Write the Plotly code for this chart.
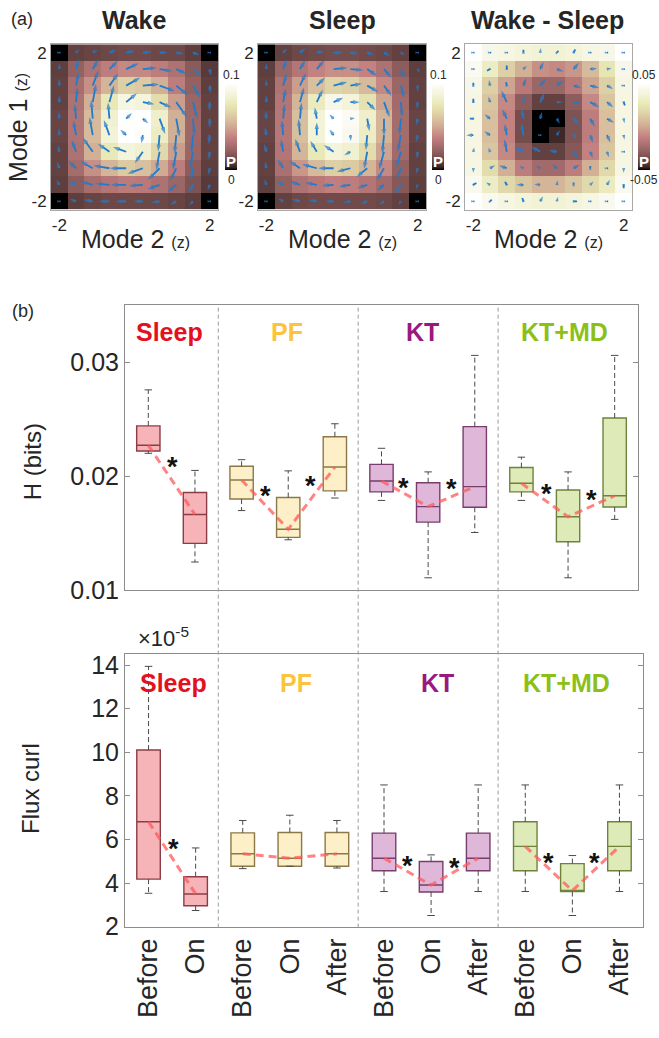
import numpy as np
import plotly.graph_objects as go

W, H = 659, 1038


def px(x):
    return x / W


def py(y):
    return 1 - y / H


# ---------------- panel (a): probability landscapes with flux arrows ----------------
grid = [-2.0, -1.556, -1.111, -0.667, -0.222, 0.222, 0.667, 1.111, 1.556, 2.0]
cell = 4 / 9
arrow_scale = 1.4

# rows listed from Mode 1 = 2 (top) down to Mode 1 = -2 (bottom)
p_wake = [
    [0.000, 0.010, 0.011, 0.012, 0.013, 0.013, 0.012, 0.012, 0.009, 0.000],
    [0.009, 0.022, 0.030, 0.036, 0.040, 0.040, 0.036, 0.030, 0.019, 0.008],
    [0.010, 0.028, 0.042, 0.054, 0.064, 0.062, 0.052, 0.036, 0.022, 0.009],
    [0.010, 0.030, 0.052, 0.076, 0.090, 0.088, 0.070, 0.046, 0.024, 0.010],
    [0.011, 0.031, 0.056, 0.084, 0.099, 0.100, 0.082, 0.052, 0.025, 0.010],
    [0.011, 0.031, 0.056, 0.086, 0.100, 0.098, 0.080, 0.052, 0.025, 0.010],
    [0.010, 0.030, 0.052, 0.076, 0.088, 0.084, 0.068, 0.046, 0.024, 0.010],
    [0.010, 0.027, 0.042, 0.054, 0.062, 0.058, 0.050, 0.036, 0.020, 0.009],
    [0.009, 0.020, 0.028, 0.032, 0.035, 0.034, 0.030, 0.024, 0.016, 0.008],
    [0.000, 0.009, 0.011, 0.012, 0.012, 0.012, 0.012, 0.011, 0.009, 0.000],
]
p_sleep = [
    [0.000, 0.010, 0.012, 0.013, 0.014, 0.014, 0.013, 0.012, 0.010, 0.000],
    [0.009, 0.024, 0.032, 0.038, 0.042, 0.042, 0.038, 0.030, 0.020, 0.009],
    [0.010, 0.030, 0.046, 0.058, 0.066, 0.064, 0.056, 0.040, 0.024, 0.010],
    [0.010, 0.032, 0.054, 0.078, 0.092, 0.088, 0.072, 0.048, 0.026, 0.010],
    [0.011, 0.033, 0.058, 0.086, 0.100, 0.096, 0.082, 0.054, 0.027, 0.011],
    [0.011, 0.033, 0.058, 0.086, 0.099, 0.094, 0.080, 0.054, 0.027, 0.011],
    [0.010, 0.032, 0.054, 0.076, 0.088, 0.084, 0.070, 0.048, 0.026, 0.010],
    [0.010, 0.029, 0.044, 0.056, 0.064, 0.062, 0.054, 0.040, 0.022, 0.010],
    [0.009, 0.022, 0.030, 0.034, 0.037, 0.036, 0.032, 0.026, 0.018, 0.009],
    [0.000, 0.010, 0.012, 0.013, 0.013, 0.013, 0.013, 0.012, 0.010, 0.000],
]
p_diff = [
    [0.050, 0.042, 0.040, 0.037, 0.035, 0.035, 0.037, 0.040, 0.042, 0.050],
    [0.045, 0.030, 0.014, 0.002, -0.008, -0.010, -0.006, 0.006, 0.024, 0.042],
    [0.042, 0.014, -0.002, -0.016, -0.026, -0.026, -0.016, -0.002, 0.014, 0.040],
    [0.040, 0.010, -0.010, -0.030, -0.040, -0.040, -0.030, -0.010, 0.010, 0.040],
    [0.040, 0.008, -0.012, -0.036, -0.050, -0.050, -0.034, -0.014, 0.008, 0.040],
    [0.040, 0.008, -0.012, -0.036, -0.050, -0.046, -0.034, -0.014, 0.008, 0.040],
    [0.040, 0.010, -0.010, -0.030, -0.040, -0.040, -0.032, -0.012, 0.010, 0.040],
    [0.040, 0.020, 0.002, -0.014, -0.024, -0.024, -0.014, 0.002, 0.018, 0.040],
    [0.044, 0.030, 0.018, 0.010, 0.004, 0.004, 0.010, 0.018, 0.028, 0.044],
    [0.050, 0.044, 0.040, 0.037, 0.035, 0.035, 0.037, 0.040, 0.044, 0.050],
]

# flux vectors: direction (deg, 0 = +Mode 2, 90 = +Mode 1) and length (in cells)
wake_ang = [
    [0, 45, 30, 20, 10, 5, 0, -10, -20, 0],
    [90, 75, 60, 45, 25, 5, -10, -25, -40, -80],
    [90, 80, 70, 55, 30, 5, -20, -40, -60, -85],
    [90, 85, 80, 75, 40, -10, -25, -55, -75, -90],
    [95, 95, 95, 95, 45, -40, -70, -80, -85, -90],
    [95, 100, 100, 110, 135, -100, -95, -95, -95, -95],
    [100, 110, 125, 145, 160, -125, -100, -100, -100, -95],
    [110, 135, 150, 170, 180, -160, -135, -115, -100, -100],
    [120, 150, 165, 175, 180, -175, -160, -140, -120, -110],
    [0, 160, 170, 180, 180, 180, -170, -150, -135, 0],
]
wake_len = [
    [0.05, 0.20, 0.25, 0.35, 0.40, 0.40, 0.35, 0.35, 0.30, 0.05],
    [0.25, 0.45, 0.50, 0.50, 0.60, 0.60, 0.55, 0.50, 0.45, 0.30],
    [0.30, 0.60, 0.70, 0.65, 0.70, 0.70, 0.70, 0.65, 0.60, 0.35],
    [0.30, 0.65, 0.80, 0.75, 0.60, 0.50, 0.55, 0.80, 0.75, 0.40],
    [0.30, 0.65, 0.80, 0.70, 0.35, 0.30, 0.70, 0.80, 0.75, 0.40],
    [0.30, 0.65, 0.80, 0.70, 0.35, 0.35, 0.70, 0.80, 0.75, 0.40],
    [0.30, 0.55, 0.75, 0.60, 0.60, 0.60, 0.80, 0.80, 0.70, 0.35],
    [0.30, 0.45, 0.60, 0.70, 0.70, 0.70, 0.70, 0.60, 0.50, 0.30],
    [0.25, 0.40, 0.55, 0.60, 0.65, 0.60, 0.55, 0.50, 0.40, 0.25],
    [0.05, 0.30, 0.40, 0.45, 0.45, 0.40, 0.35, 0.30, 0.25, 0.05],
]
sleep_ang = [
    [0, 45, 40, 10, 0, -5, -20, -30, -35, 0],
    [90, 70, 60, 50, 5, -5, -35, -50, -70, -60],
    [90, 75, 65, 45, 15, 10, -30, -55, -75, -90],
    [90, 80, 75, 65, 25, 0, -45, -70, -85, -95],
    [95, 85, 85, 100, 135, 10, -80, -90, -95, -100],
    [100, 95, 95, 90, 125, -85, -95, -95, -100, -100],
    [105, 100, 110, 120, 145, -150, -100, -105, -105, -95],
    [100, 120, 145, 165, 180, -165, -140, -120, -110, -100],
    [110, 150, 160, 170, -175, -170, -160, -140, -120, -110],
    [0, 150, 165, 170, 180, -170, -160, -140, -120, 0],
]
sleep_len = [
    [0.05, 0.25, 0.30, 0.35, 0.40, 0.35, 0.30, 0.30, 0.20, 0.05],
    [0.25, 0.45, 0.45, 0.50, 0.60, 0.55, 0.50, 0.50, 0.45, 0.20],
    [0.25, 0.55, 0.60, 0.50, 0.60, 0.50, 0.55, 0.55, 0.55, 0.25],
    [0.30, 0.60, 0.65, 0.60, 0.45, 0.40, 0.50, 0.70, 0.65, 0.30],
    [0.35, 0.65, 0.70, 0.50, 0.25, 0.20, 0.55, 0.75, 0.70, 0.30],
    [0.35, 0.65, 0.70, 0.55, 0.30, 0.25, 0.65, 0.80, 0.75, 0.30],
    [0.35, 0.55, 0.60, 0.55, 0.50, 0.30, 0.75, 0.80, 0.70, 0.30],
    [0.30, 0.45, 0.55, 0.65, 0.65, 0.60, 0.60, 0.60, 0.50, 0.25],
    [0.25, 0.35, 0.45, 0.50, 0.50, 0.50, 0.45, 0.40, 0.45, 0.20],
    [0.05, 0.25, 0.35, 0.35, 0.35, 0.30, 0.30, 0.25, 0.20, 0.05],
]
diff_ang = [
    [0, 0, 0, 90, 80, 45, 60, 0, 0, 0],
    [0, -150, 90, 45, 65, -20, 50, 5, 10, 0],
    [90, 100, 100, 70, 50, 40, -15, -15, -30, 0],
    [90, 105, 115, 85, 65, 0, -10, -30, -40, -70],
    [180, 140, 115, 100, 75, -60, -50, -60, -30, -80],
    [180, 145, 100, 100, 0, 60, -50, -70, -65, -80],
    [80, 110, 100, 150, 150, 170, -60, -70, -70, 0],
    [-90, 30, 160, 150, 150, 140, 30, 90, 0, -90],
    [30, 150, 120, 180, 175, 80, 90, 45, 60, -90],
    [0, 45, 0, 110, 60, 75, 0, 0, 0, 0],
]
diff_len = [
    [0.05, 0.05, 0.05, 0.12, 0.20, 0.10, 0.15, 0.05, 0.05, 0.05],
    [0.05, 0.15, 0.15, 0.20, 0.35, 0.30, 0.35, 0.30, 0.20, 0.05],
    [0.12, 0.25, 0.15, 0.35, 0.40, 0.35, 0.35, 0.40, 0.30, 0.05],
    [0.15, 0.25, 0.55, 0.30, 0.45, 0.25, 0.35, 0.45, 0.35, 0.15],
    [0.15, 0.30, 0.45, 0.45, 0.30, 0.25, 0.35, 0.40, 0.35, 0.20],
    [0.30, 0.30, 0.50, 0.55, 0.05, 0.25, 0.15, 0.35, 0.35, 0.20],
    [0.20, 0.20, 0.55, 0.45, 0.45, 0.35, 0.35, 0.30, 0.25, 0.05],
    [0.20, 0.25, 0.35, 0.20, 0.20, 0.25, 0.30, 0.10, 0.05, 0.20],
    [0.15, 0.20, 0.15, 0.30, 0.25, 0.20, 0.10, 0.20, 0.25, 0.15],
    [0.05, 0.10, 0.05, 0.15, 0.25, 0.20, 0.15, 0.05, 0.05, 0.05],
]

# ---------------- panel (b): box statistics ----------------
conditions = ["Before", "On", "Before", "On", "After", "Before", "On", "After",
              "Before", "On", "After"]
group_names = ["Sleep", "PF", "KT", "KT+MD"]
group_sizes = [2, 3, 3, 3]

h_lower = [0.0220, 0.01247, 0.01698, 0.01442, 0.01808, 0.01787, 0.01109, 0.01506, 0.01787, 0.01109, 0.01621]
h_q1 = [0.0222, 0.01411, 0.01799, 0.01463, 0.01871, 0.01862, 0.01597, 0.01727, 0.01862, 0.01425, 0.01730]
h_med = [0.0227, 0.01664, 0.01966, 0.01534, 0.02080, 0.01957, 0.01733, 0.01908, 0.01937, 0.01644, 0.01828]
h_q3 = [0.0244, 0.01856, 0.02086, 0.01813, 0.02345, 0.02103, 0.01942, 0.02434, 0.02075, 0.01879, 0.02509]
h_upper = [0.02756, 0.0205, 0.02144, 0.02046, 0.02459, 0.02244, 0.02037, 0.03058, 0.02166, 0.02037, 0.03058]

# flux curl, in units of 1e-5
c_lower = [3.53, 2.74, 4.66, 4.77, 4.69, 3.61, 2.51, 3.61, 3.61, 2.51, 3.61]
c_q1 = [4.18, 2.96, 4.77, 4.77, 4.77, 4.56, 3.59, 4.56, 4.56, 3.61, 4.56]
c_med = [6.81, 3.50, 5.34, 5.14, 5.34, 5.14, 3.91, 5.14, 5.68, 3.65, 5.68]
c_q3 = [10.10, 4.29, 6.30, 6.32, 6.32, 6.29, 4.99, 6.29, 6.81, 4.89, 6.81]
c_upper = [13.94, 5.61, 6.87, 7.11, 6.87, 8.50, 5.29, 8.50, 8.50, 5.26, 8.50]

# significance stars: (x position, y position)
h_stars = [(1.51, 0.02138), (3.52, 0.01888), (4.47, 0.01974), (6.48, 0.01957),
           (7.51, 0.01948), (9.53, 0.01905), (10.51, 0.01853)]
c_stars = [(1.52, 5.88), (6.49, 5.11), (7.49, 5.02), (9.50, 5.25), (10.48, 5.25)]

label_colors = ["#e3101e", "#fcc43c", "#981a80", "#8cbf18"]
box_fills = ["#f6b4b9", "#fdf0c8", "#dfb8d9", "#deeab8"]
box_lines = ["#8c3c46", "#8c7846", "#783c6e", "#6e823c"]


def matlab_pink(n=33):
    stops = []
    for i in range(n):
        t = i / (n - 1)
        hot = (min(1.0, t / 0.375),
               min(1.0, max(0.0, (t - 0.375) / 0.375)),
               min(1.0, max(0.0, (t - 0.75) / 0.25)))
        r, g, b = [np.sqrt((2 * t + h) / 3) for h in hot]
        stops.append([t, f"rgb({int(r * 255)},{int(g * 255)},{int(b * 255)})"])
    return stops


pink = matlab_pink()
fig = go.Figure()

heat_specs = [
    ("x", "y", p_wake, wake_ang, wake_len, 0, 0.1, 51, 218, 225),
    ("x2", "y2", p_sleep, sleep_ang, sleep_len, 0, 0.1, 258, 426, 432),
    ("x3", "y3", p_diff, diff_ang, diff_len, -0.05, 0.05, 465, 632, 638),
]
y_desc = grid[::-1]
for xa, ya, z, ang, ln, zmin, zmax, x0p, x1p, cbx in heat_specs:
    fig.add_trace(go.Heatmap(
        x=grid, y=y_desc, z=z, xaxis=xa, yaxis=ya, colorscale=pink,
        zmin=zmin, zmax=zmax,
        colorbar=dict(x=px(cbx), xanchor="left", xref="paper", xpad=0, ypad=0,
                      thickness=12, thicknessmode="pixels", len=88 / H,
                      lenmode="fraction", y=py(126), yanchor="middle",
                      outlinewidth=0, showticklabels=False, ticks=""),
    ))
    xs, ys, sz = [], [], []
    for r in range(10):
        for c in range(10):
            a = np.deg2rad(ang[r][c])
            L = ln[r][c] * cell * arrow_scale
            xs += [grid[c], grid[c] + L * np.cos(a), None]
            ys += [y_desc[r], y_desc[r] + L * np.sin(a), None]
            sz += [0, min(7.0, 3.0 + 10 * ln[r][c]), 0]
    fig.add_trace(go.Scatter(
        x=xs, y=ys, xaxis=xa, yaxis=ya, mode="lines+markers",
        line=dict(color="#1f7bcc", width=1.8),
        marker=dict(symbol="arrow", size=sz, angleref="previous", color="#1f7bcc",
                    line=dict(width=0)),
        hoverinfo="skip", showlegend=False,
    ))

# ---------------- boxes ----------------
starts = np.cumsum([0] + group_sizes[:-1])
positions = list(range(1, len(conditions) + 1))
box_panels = [
    ("x4", "y4", h_lower, h_q1, h_med, h_q3, h_upper),
    ("x5", "y5", c_lower, c_q1, c_med, c_q3, c_upper),
]
for xa, ya, lo, q1, med, q3, up in box_panels:
    wx, wy, cx, cy = [], [], [], []
    for i, p in enumerate(positions):
        wx += [p, p, None, p, p, None]
        wy += [q3[i], up[i], None, q1[i], lo[i], None]
        cx += [p - 0.08, p + 0.08, None, p - 0.08, p + 0.08, None]
        cy += [up[i], up[i], None, lo[i], lo[i], None]
    fig.add_trace(go.Scatter(x=wx, y=wy, xaxis=xa, yaxis=ya, mode="lines",
                             line=dict(color="#4a4a4a", width=1, dash="5px,3px"),
                             hoverinfo="skip", showlegend=False))
    fig.add_trace(go.Scatter(x=cx, y=cy, xaxis=xa, yaxis=ya, mode="lines",
                             line=dict(color="#4a4a4a", width=1),
                             hoverinfo="skip", showlegend=False))
    for g, (s, n) in enumerate(zip(starts, group_sizes)):
        sl = slice(s, s + n)
        fig.add_trace(go.Box(
            x=positions[sl], q1=q1[sl], median=med[sl], q3=q3[sl],
            lowerfence=q1[sl], upperfence=q3[sl], xaxis=xa, yaxis=ya,
            width=0.5, whiskerwidth=0, fillcolor=box_fills[g],
            line=dict(color=box_lines[g], width=1.4), boxpoints=False,
            hoverinfo="skip", showlegend=False,
        ))
    for s, n in zip(starts, group_sizes):
        sl = slice(s, s + n)
        fig.add_trace(go.Scatter(
            x=positions[sl], y=med[sl], xaxis=xa, yaxis=ya, mode="lines",
            line=dict(color="rgba(255,90,90,0.75)", width=3, dash="8px,5px"),
            hoverinfo="skip", showlegend=False))

# ---------------- axes ----------------
frame = "#8c8c8c"
text_col = "#262626"
font = "Liberation Sans, Arial, sans-serif"
heat_axes = {}
for xa, ya, *_rest in heat_specs:
    x0p, x1p = _rest[5], _rest[6]
    xname = "xaxis" if xa == "x" else "xaxis" + xa[1:]
    yname = "yaxis" if ya == "y" else "yaxis" + ya[1:]
    heat_axes[xname] = dict(domain=[px(x0p), px(x1p)], range=[-2.222, 2.222], anchor=ya,
                            tickvals=[-2, 2], ticktext=["-2", "2"], ticks="",
                            showline=True, mirror=True, linecolor="#a8a8a8", linewidth=1,
                            showgrid=False, zeroline=False,
                            tickfont=dict(size=17, color=text_col))
    heat_axes[yname] = dict(domain=[py(210), py(42)], range=[-2.222, 2.222], anchor=xa,
                            tickvals=[-2, 2], ticktext=["-2", "2"], ticks="",
                            showline=True, mirror=True, linecolor="#a8a8a8", linewidth=1,
                            showgrid=False, zeroline=False,
                            tickfont=dict(size=17, color=text_col))

fig.update_layout(
    width=W, height=H, margin=dict(l=0, r=0, t=0, b=0),
    paper_bgcolor="white", plot_bgcolor="white",
    font=dict(family=font, color=text_col),
    showlegend=False,
    **heat_axes,
    xaxis4=dict(domain=[px(125), px(638)], range=[0.5, 11.5], anchor="y4",
                showticklabels=False, ticks="", showline=True, mirror=True,
                linecolor=frame, showgrid=False, zeroline=False),
    yaxis4=dict(domain=[py(597), py(307)], range=[0.01, 0.035], anchor="x4",
                tickvals=[0.01, 0.02, 0.03], ticktext=["0.01", "0.02", "0.03"],
                ticks="inside", ticklen=5, tickcolor=frame, showline=True,
                mirror="ticks", linecolor=frame, showgrid=False, zeroline=False,
                tickfont=dict(size=25, color=text_col)),
    xaxis5=dict(domain=[px(125), px(643)], range=[0.5, 11.5], anchor="y5",
                tickvals=positions, ticktext=conditions, tickangle=-90, ticks="",
                showline=True, mirror=True, linecolor=frame, showgrid=False,
                zeroline=False, tickfont=dict(size=27, color=text_col)),
    yaxis5=dict(domain=[py(939), py(662)], range=[2, 14.5], anchor="x5",
                tickvals=[2, 4, 6, 8, 10, 12, 14], ticks="inside", ticklen=5,
                tickcolor=frame, showline=True, mirror="ticks", linecolor=frame,
                showgrid=False, zeroline=False, tickfont=dict(size=25, color=text_col)),
)

# group dividers spanning both box panels
for xd in [2.5, 5.5, 8.5]:
    fig.add_shape(type="line", xref="x4", yref="paper", x0=xd, x1=xd,
                  y0=py(940), y1=py(307), line=dict(color="#9a9a9a", width=1, dash="4px,3px"))

ann = []


def label(text, x, y, size, color=text_col, angle=0, bold=False):
    t = f"<b>{text}</b>" if bold else text
    ann.append(dict(text=t, x=px(x), y=py(y), xref="paper", yref="paper",
                    showarrow=False, xanchor="center", yanchor="middle",
                    textangle=angle, font=dict(size=size, color=color, family=font)))


label("(a)", 22, 16, 18)
label("Wake", 134, 17, 25, bold=True)
label("Sleep", 342, 17, 25, bold=True)
label("Wake - Sleep", 547, 17, 25, bold=True)
label("Mode 1 <span style='font-size:16px'>(z)</span>", 18, 127, 25, angle=-90)
for xc in [135, 342, 548]:
    label("Mode 2 <span style='font-size:16px'>(z)</span>", xc, 240, 25)
for cbx, top, bot in [(231, "0.1", "0"), (438, "0.1", "0"), (644, "0.05", "-0.05")]:
    label(top, cbx, 73, 12)
    label(bot, cbx, 180, 12)
    label("P", cbx, 161, 15, color="white", bold=True)

label("(b)", 23, 313, 18)
label("H (bits)", 32, 467, 24, angle=-90)
label("Flux curl", 31, 799, 24, angle=-90)
label("×10<sup>-5</sup>", 163, 645, 22)
for name, col, xt, xb in zip(group_names, label_colors, [169, 287, 423, 564], [173, 296, 437, 566]):
    label(name, xt, 334, 25, color=col, bold=True)
    label(name, xb, 691, 25, color=col, bold=True)

for xa, ya, stars in [("x4", "y4", h_stars), ("x5", "y5", c_stars)]:
    for sx, sy in stars:
        ann.append(dict(text="<b>*</b>", x=sx, y=sy, xref=xa, yref=ya, showarrow=False,
                        xanchor="center", yanchor="middle", yshift=-7,
                        font=dict(size=27, color="#111111", family=font)))

fig.update_layout(annotations=ann)
fig.write_html("out.html")
